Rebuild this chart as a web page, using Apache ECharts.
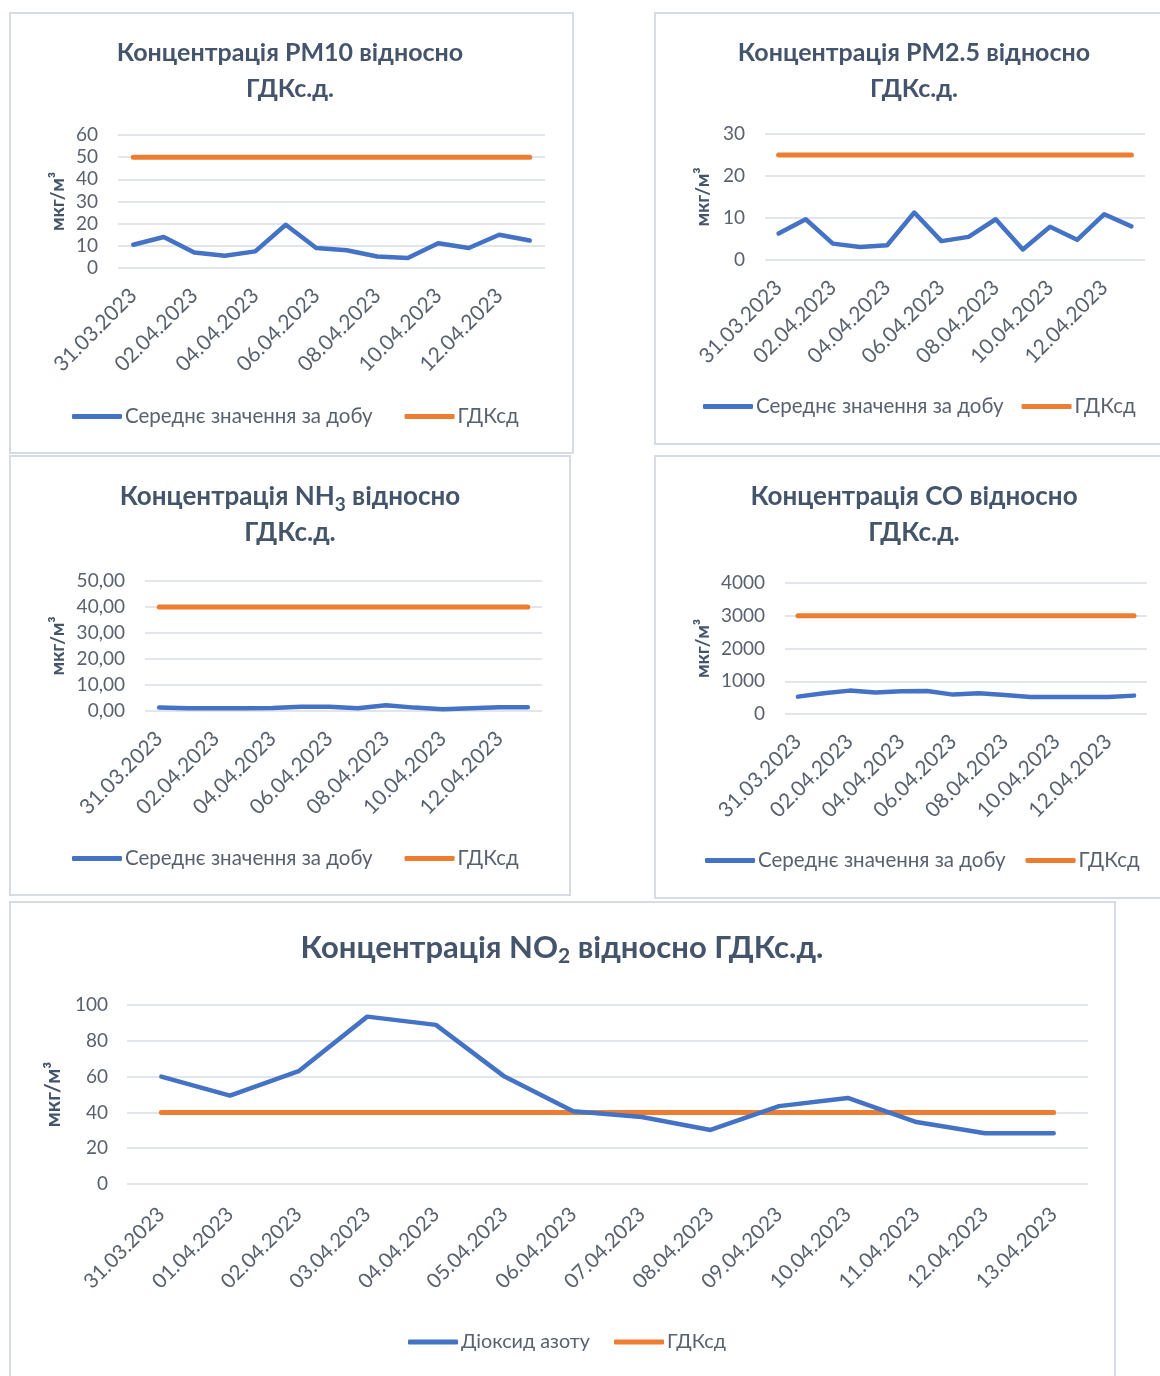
<!DOCTYPE html>
<html><head><meta charset="utf-8">
<script src="https://cdn.jsdelivr.net/npm/echarts@6/dist/echarts.min.js"></script>
<style>html,body{margin:0;padding:0;background:#fff}#c{width:1160px;height:1376px}</style>
</head><body><div id="c"></div>
<script>
const dates = ['31.03.2023','01.04.2023','02.04.2023','03.04.2023','04.04.2023','05.04.2023','06.04.2023','07.04.2023','08.04.2023','09.04.2023','10.04.2023','11.04.2023','12.04.2023','13.04.2023'];
const pm10Avg = [10.5,14,7,5.5,7.5,19.5,9,8,5.2,4.5,11.2,9,15,12.4];
const pm10Limit = [50,50,50,50,50,50,50,50,50,50,50,50,50,50];
const pm25Avg = [6.3,9.7,3.9,3.1,3.5,11.3,4.5,5.5,9.7,2.5,7.9,4.8,10.9,8.0];
const pm25Limit = [25,25,25,25,25,25,25,25,25,25,25,25,25,25];
const nh3Avg = [1.3,1.05,1.05,1.1,1.2,1.6,1.6,1.1,2.2,1.3,0.7,1.1,1.4,1.4];
const nh3Limit = [40,40,40,40,40,40,40,40,40,40,40,40,40,40];
const coAvg = [530,632,714,653,694,704,592,632,581,520,520,520,520,561];
const coLimit = [3000,3000,3000,3000,3000,3000,3000,3000,3000,3000,3000,3000,3000,3000];
const no2Avg = [60,49.4,63,93.5,88.9,60,40.7,37.4,30.2,43.5,48.1,34.6,28.3,28.3];
const no2Limit = [40,40,40,40,40,40,40,40,40,40,40,40,40,40];
const nameAvg = 'Середнє значення за добу';
const nameNo2 = 'Діоксид азоту';
const nameLimit = 'ГДКсд';
const unitName = 'мкг/м³';

const FONT = 'Lato';
const TITLE_C = '#44546a';
const LABEL_C = '#58626f';
const BLUE = '#4472c4', ORANGE = '#ed7d31';

const panels = [
  {border:[10,13,563,440], title:{x:290,y:34,text:'{b|Концентрація PM10 відносно}\n{b|ГДКс.д.}'},
   grid:{left:118,top:135,width:427,height:133}, max:60, interval:10, dec:0, nameGap:51,
   legend:{left:72,top:406,gap:32,fs:20.5}, names:[nameAvg,nameLimit], data:[pm10Avg,pm10Limit], xInt:1},
  {border:[655,13,520,431], title:{x:914,y:34,text:'{b|Концентрація PM2.5 відносно}\n{b|ГДКс.д.}'},
   grid:{left:765,top:134,width:380,height:126}, max:30, interval:10, dec:0, nameGap:53,
   legend:{left:703,top:396,gap:18,fs:20.5}, names:[nameAvg,nameLimit], data:[pm25Avg,pm25Limit], xInt:1},
  {border:[10,456,560,439], title:{x:290,y:478,text:'{c|Концентрація NH}{s|3}{c| відносно}\n{c|ГДКс.д.}'},
   grid:{left:145,top:581,width:397,height:130}, max:50, interval:10, dec:2, nameGap:78,
   legend:{left:72,top:848,gap:32,fs:20.5}, names:[nameAvg,nameLimit], data:[nh3Avg,nh3Limit], xInt:1},
  {border:[655,456,520,442], title:{x:914,y:478,text:'{c|Концентрація CO відносно}\n{c|ГДКс.д.}'},
   grid:{left:785,top:583,width:362,height:131}, max:4000, interval:1000, dec:0, nameGap:73,
   legend:{left:705,top:850,gap:20,fs:20.5}, names:[nameAvg,nameLimit], data:[coAvg,coLimit], xInt:1},
  {border:[10,902,1105,480], title:{x:562,y:928,text:'{B|Концентрація NO}{S|2}{B| відносно ГДКс.д.}'},
   grid:{left:127,top:1005,width:961,height:179}, max:100, interval:20, dec:0, nameGap:60,
   legend:{left:408,top:1332,gap:24,fs:19.8}, names:[nameNo2,nameLimit], data:[no2Avg,no2Limit], xInt:0, big:true}
];

const rich = {
  b:{fontFamily:FONT,fontWeight:'bold',fontSize:25,color:TITLE_C,lineHeight:36},
  c:{fontFamily:FONT,fontWeight:'bold',fontSize:26,color:TITLE_C,lineHeight:36},
  s:{fontFamily:FONT,fontWeight:'bold',fontSize:19,color:TITLE_C,lineHeight:19,padding:[15,0,0,0]},
  B:{fontFamily:FONT,fontWeight:'bold',fontSize:31,color:TITLE_C,lineHeight:40},
  S:{fontFamily:FONT,fontWeight:'bold',fontSize:21,color:TITLE_C,lineHeight:22,padding:[16,0,0,0]}
};

const option = {animation:false, backgroundColor:'#fff', title:[], grid:[], xAxis:[], yAxis:[], series:[], legend:[], graphic:[]};
panels.forEach((p,i)=>{
  option.graphic.push({type:'rect', shape:{x:p.border[0],y:p.border[1],width:p.border[2],height:p.border[3]},
    style:{fill:'none',stroke:'#d6dce5',lineWidth:2}, z:-1});
  option.title.push({text:p.title.text, left:p.title.x, top:p.title.y + (p.big?0:1), textAlign:'center', padding:0,
    textStyle:{rich:rich}});
  option.grid.push(Object.assign({containLabel:false}, p.grid));
  option.xAxis.push({type:'category', gridIndex:i, data:dates, boundaryGap:true,
    axisLine:{show:false}, axisTick:{show:false},
    axisLabel:{interval:p.xInt, rotate:45, margin:p.big?27:24, fontFamily:FONT, fontSize:p.big?20.5:21, color:LABEL_C}});
  option.yAxis.push({type:'value', gridIndex:i, min:0, max:p.max, interval:p.interval,
    axisLine:{show:false}, axisTick:{show:false},
    splitLine:{lineStyle:{color:'#d9dee6',width:1.5}},
    axisLabel:{margin:p.big?19:20, fontFamily:FONT, fontSize:19, color:LABEL_C,
      formatter:(v)=> p.dec ? v.toFixed(p.dec).replace('.',',') : String(v)},
    name:unitName, nameLocation:'middle', nameRotate:90, nameGap:p.nameGap,
    nameTextStyle:{fontFamily:FONT, fontWeight:'bold', fontSize:p.big?21:19, color:TITLE_C}});
  option.series.push({type:'line', name:p.names[0], xAxisIndex:i, yAxisIndex:i, data:p.data[0],
    symbol:'none', lineStyle:{color:BLUE,width:4.5,cap:'round',join:'round'}, itemStyle:{color:BLUE}, z:3});
  option.series.push({type:'line', name:p.names[1], xAxisIndex:i, yAxisIndex:i, data:p.data[1],
    symbol:'none', lineStyle:{color:ORANGE,width:5,cap:'round'}, itemStyle:{color:ORANGE}, z:2});
  option.legend.push({left:p.legend.left, top:p.legend.top, padding:0, itemGap:p.legend.gap,
    itemWidth:50, itemHeight:5, icon:'roundRect', data:p.names, selectedMode:false,
    textStyle:{fontFamily:FONT, fontSize:p.legend.fs, color:LABEL_C, padding:[0,0,0,-2]}});
});
const chart = echarts.init(document.getElementById('c'), null, {renderer:'canvas'});
chart.setOption(option);
</script></body></html>
